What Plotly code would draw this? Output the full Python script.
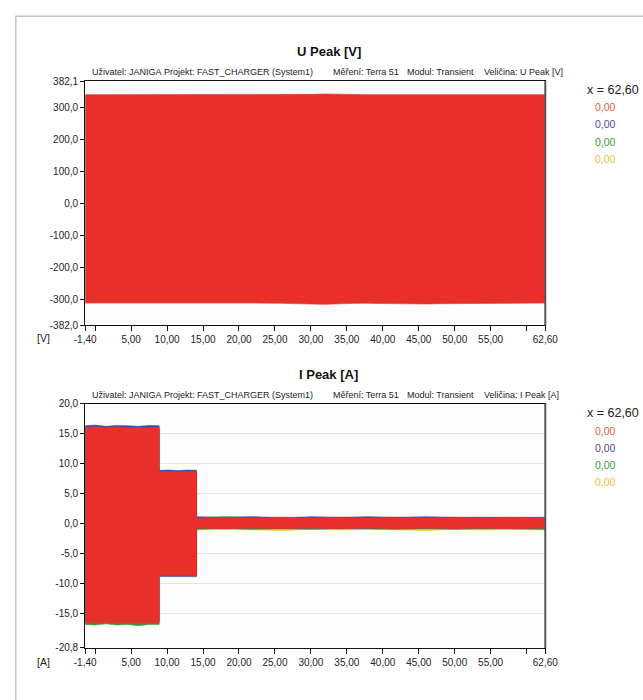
import plotly.graph_objects as go

# ---------------- data ----------------
# U Peak envelope (phase L1), time in s
t_U = [-1.4, 2, 6, 10, 14, 18, 22, 26, 28, 30, 32, 34, 36, 38, 42, 44, 46, 48, 50, 54, 58, 62.6]
U_L1_max = [340, 340, 339, 340, 340, 339, 340, 340, 340, 341, 342, 341, 340, 340, 340, 340, 341, 340, 340, 340, 339, 340]
U_L1_min = [-312, -313, -312, -312, -313, -312, -312, -313, -313, -315, -316, -315, -313, -313, -313, -314, -315, -314, -313, -313, -312, -312]

# I Peak envelopes for the four channels, time in s
t_I = [-1.4, 0.0, 1.5, 3.0, 4.5, 6.0, 7.5, 8.9, 8.9, 10.2, 11.5, 12.8, 14.1, 14.1,
       18, 22, 26, 30, 34, 38, 42, 46, 50, 54, 58, 62.6]
I_L1_max = [16.0, 16.1, 16.0, 16.1, 16.0, 16.0, 16.1, 16.0, 8.6, 8.6, 8.7, 8.6, 8.6, 0.9,
            1.0, 0.9, 1.0, 0.9, 1.0, 0.9, 1.0, 0.9, 1.0, 0.9, 1.0, 0.9]
I_L1_min = [-16.6, -16.5, -16.6, -16.6, -16.5, -16.6, -16.6, -16.6, -8.7, -8.7, -8.6, -8.7, -8.7, -0.8,
            -0.9, -0.8, -0.9, -0.8, -0.9, -0.8, -0.9, -0.8, -0.9, -0.8, -0.9, -0.8]
I_L2_max = [16.3, 16.4, 16.2, 16.35, 16.3, 16.2, 16.35, 16.3, 8.85, 8.9, 8.8, 8.9, 8.85, 1.1,
            1.0, 1.1, 0.9, 1.1, 1.0, 1.1, 1.0, 1.1, 1.0, 1.0, 1.1, 1.0]
I_L2_min = [-16.2, -16.3, -16.2, -16.2, -16.3, -16.2, -16.2, -16.3, -8.9, -8.95, -8.85, -8.9, -8.9, -0.8,
            -0.9, -0.8, -0.8, -0.9, -0.8, -0.8, -0.9, -0.8, -0.8, -0.9, -0.8, -0.8]
I_L3_max = [15.8, 15.8, 15.9, 15.8, 15.8, 15.9, 15.8, 15.8, 8.5, 8.5, 8.5, 8.5, 8.5, 0.9,
            1.1, 1.0, 1.0, 0.9, 1.0, 1.0, 0.9, 1.0, 1.0, 0.9, 1.0, 0.9]
I_L3_min = [-16.9, -17.0, -16.8, -17.0, -16.9, -17.1, -16.9, -16.9, -8.6, -8.6, -8.6, -8.6, -8.6, -1.0,
            -0.9, -1.0, -0.9, -1.0, -0.9, -0.9, -1.0, -0.9, -1.0, -0.9, -0.9, -1.0]
I_N_max = [15.5, 15.5, 15.5, 15.5, 15.5, 15.5, 15.5, 15.5, 8.3, 8.3, 8.3, 8.3, 8.3, 0.8,
           0.9, 0.8, 0.9, 0.8, 0.9, 0.8, 0.9, 0.8, 0.9, 0.8, 0.9, 0.8]
I_N_min = [-16.0, -16.0, -16.0, -16.0, -16.0, -16.0, -16.0, -16.0, -8.4, -8.4, -8.4, -8.4, -8.4, -1.1,
           -1.0, -1.1, -1.2, -1.0, -1.1, -1.0, -1.1, -1.2, -1.0, -1.1, -1.0, -1.1]

# axis ticks
x_tickvals = [-1.4, 0, 5, 10, 15, 20, 25, 30, 35, 40, 45, 50, 55, 60, 62.6]
x_ticktext = ["-1,40", "", "5,00", "10,00", "15,00", "20,00", "25,00", "30,00", "35,00",
              "40,00", "45,00", "50,00", "55,00", "", "62,60"]
U_tickvals = [382.1, 300, 200, 100, 0, -100, -200, -300, -382.0]
U_ticktext = ["382,1", "300,0", "200,0", "100,0", "0,0", "-100,0", "-200,0", "-300,0", "-382,0"]
I_tickvals = [20.0, 15, 10, 5, 0, -5, -10, -15, -20.8]
I_ticktext = ["20,0", "15,0", "10,0", "5,0", "0,0", "-5,0", "-10,0", "-15,0", "-20,8"]

cursor_text = "x = 62,60"
cursor_values = ["0,00", "0,00", "0,00", "0,00"]
subtitle_parts_U = ["Uživatel: JANIGA", "Projekt: FAST_CHARGER (System1)", "Měření: Terra 51",
                    "Modul: Transient", "Veličina: U Peak [V]"]
subtitle_parts_I = ["Uživatel: JANIGA", "Projekt: FAST_CHARGER (System1)", "Měření: Terra 51",
                    "Modul: Transient", "Veličina: I Peak [A]"]

# ---------------- styling ----------------
W, H = 643, 700
COL = {"L1": "#e8302a", "L2": "#3a4cb0", "L3": "#2f9a3a", "N": "#f2c41c"}
VAL_COL = ["#e8603a", "#4a4aa8", "#3a9a3a", "#f0c030"]
FONT = "Liberation Sans, Arial, sans-serif"


def px(x):
    return x / W


def py(y):
    return 1 - y / H


def band(t, hi, lo, color, xa, ya):
    return go.Scatter(
        x=list(t) + list(t)[::-1], y=list(hi) + list(lo)[::-1],
        fill="toself", fillcolor=color, mode="lines",
        line=dict(color=color, width=0.6), xaxis=xa, yaxis=ya,
        hoverinfo="skip", showlegend=False,
    )


fig = go.Figure()
fig.add_trace(band(t_U, U_L1_max, U_L1_min, COL["L1"], "x", "y"))
fig.add_trace(band(t_I, I_N_max, I_N_min, COL["N"], "x2", "y2"))
fig.add_trace(band(t_I, I_L3_max, I_L3_min, COL["L3"], "x2", "y2"))
fig.add_trace(band(t_I, I_L2_max, I_L2_min, COL["L2"], "x2", "y2"))
fig.add_trace(band(t_I, I_L1_max, I_L1_min, COL["L1"], "x2", "y2"))

# plot areas in pixels
PX_L, PX_R = 77, 555
TOP = (76.5, 325)
BOT = (404.5, 653)

xcommon = dict(
    range=[-1.4, 62.6], tickvals=x_tickvals, ticktext=x_ticktext,
    showgrid=False, zeroline=False, showline=True, linecolor="#111", linewidth=1,
    ticks="outside", ticklen=5, tickcolor="#111", tickwidth=1,
    tickfont=dict(family=FONT, size=10, color="#222"), mirror=True,
)
ycommon = dict(
    showgrid=True, gridcolor="#e4e4e4", gridwidth=1, zeroline=False,
    showline=True, linecolor="#111", linewidth=1, mirror=True,
    ticks="outside", ticklen=4, tickcolor="#111", tickwidth=1,
    tickfont=dict(family=FONT, size=10, color="#222"),
)

fig.update_layout(
    width=W, height=H, autosize=False,
    margin=dict(l=0, r=0, t=0, b=0),
    paper_bgcolor="white", plot_bgcolor="#fdfdfd",
    xaxis=dict(domain=[px(PX_L), px(PX_R)], anchor="y", **xcommon),
    yaxis=dict(domain=[py(TOP[1]), py(TOP[0])], anchor="x", range=[-382.0, 382.1],
               tickvals=U_tickvals, ticktext=U_ticktext, **ycommon),
    xaxis2=dict(domain=[px(PX_L), px(PX_R)], anchor="y2", **xcommon),
    yaxis2=dict(domain=[py(BOT[1]), py(BOT[0])], anchor="x2", range=[-20.8, 20.0],
                tickvals=I_tickvals, ticktext=I_ticktext, **ycommon),
)

shapes = [
    # outer frame
    dict(type="rect", xref="paper", yref="paper", x0=px(5), x1=1.05, y0=-0.05, y1=py(10.5),
         line=dict(color="#c4c4c4", width=1.5), fillcolor="rgba(0,0,0,0)", layer="below"),
]
for top, bot in (TOP, BOT):
    shapes.append(dict(type="line", xref="paper", yref="paper", x0=px(PX_R), x1=px(PX_R),
                       y0=py(bot), y1=py(top), line=dict(color="#555", width=2)))
fig.update_layout(shapes=shapes)

ann = []


def text(x, y, s, size=10, color="#222", anchor="left", family=FONT, bold=False):
    ann.append(dict(x=px(x), y=py(y), xref="paper", yref="paper", text=f"<b>{s}</b>" if bold else s,
                    showarrow=False, xanchor=anchor, yanchor="middle", borderpad=0,
                    font=dict(family=family, size=size, color=color)))


sub_x = [83, 158, 333, 410, 490]
for off, title, parts, unit in ((0, "U Peak [V]", subtitle_parts_U, "[V]"),
                                (329, "I Peak [A]", subtitle_parts_I, "[A]")):
    text(330, 46 + off, title, size=13, color="#111", anchor="center", bold=True)
    for x, s in zip(sub_x, parts):
        text(x, 67 + off, s, size=9, color="#222")
    text(26, 338 + off, unit, size=10.5, color="#222")
    text(597, 85 + off, cursor_text, size=12.5, color="#222")
    for i, (v, c) in enumerate(zip(cursor_values, VAL_COL)):
        text(629, 103 + off + i * 17.5, v, size=10.5, color=c, anchor="right")

fig.update_layout(annotations=ann)

# page body without default margin so the figure sits at the window origin
fig.write_html("out.html", post_script="document.body.style.margin='0';")
